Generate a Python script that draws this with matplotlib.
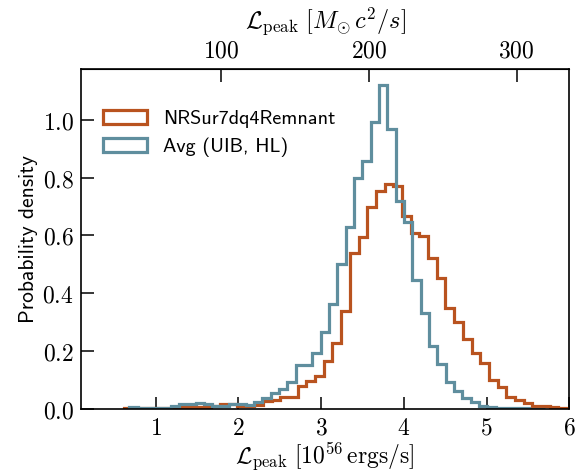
import numpy as np
import matplotlib
matplotlib.use("Agg")
import matplotlib.pyplot as plt
from matplotlib.ticker import FuncFormatter, FixedLocator

plt.rcParams["mathtext.fontset"] = "cm"

# ---- data ----
labels = ["NRSur7dq4Remnant", "Avg (UIB, HL)"]
colors = ["#b9531f", "#5f8e9e"]

orange_start, orange_width = 0.616, 0.105
orange_density = [0.002, 0.003, 0.004, 0.004, 0.005, 0.005, 0.006, 0.007, 0.006, 0.006,
                  0.010, 0.016, 0.016, 0.010, 0.012, 0.014, 0.028, 0.031, 0.040, 0.040,
                  0.079, 0.097, 0.113, 0.166, 0.227, 0.340, 0.538, 0.593, 0.699, 0.752,
                  0.778, 0.770, 0.667, 0.609, 0.598, 0.521, 0.453, 0.350, 0.302, 0.241,
                  0.195, 0.158, 0.101, 0.075, 0.042, 0.031, 0.020, 0.010, 0.010, 0.006,
                  0.005, 0.005]

blue_start, blue_width = 0.68, 0.1006
blue_density = [0.008, 0.003, 0.003, 0.005, 0.005, 0.010, 0.016, 0.016, 0.020, 0.016,
                0.011, 0.012, 0.016, 0.016, 0.015, 0.025, 0.038, 0.054, 0.069, 0.094,
                0.153, 0.153, 0.194, 0.265, 0.363, 0.502, 0.629, 0.800, 0.858, 0.993,
                1.119, 0.968, 0.718, 0.645, 0.446, 0.331, 0.216, 0.157, 0.094, 0.063,
                0.037, 0.023, 0.010, 0.008, 0.005, 0.004, 0.003, 0.002, 0.001, 0.001]

bottom_ticks = [1, 2, 3, 4, 5, 6]
y_ticks = [0.0, 0.2, 0.4, 0.6, 0.8, 1.0]
top_ticks = [100, 200, 300]
conv = 55.96  # 1e56 erg/s in M_sun c^2 / s

fig = plt.figure(figsize=(5.85, 4.73), dpi=100)
ax = fig.add_axes([0.138, 0.1353, 0.8355, 0.7188])

series = [(orange_start, orange_width, orange_density),
          (blue_start, blue_width, blue_density)]
for (start, width, dens), lab, col in zip(series, labels, colors):
    dens = np.asarray(dens)
    edges = start + width * np.arange(len(dens) + 1)
    ax.hist(edges[:-1], bins=edges, weights=dens, histtype="step",
            color=col, lw=2.3, label=lab)

ax.set_xlim(0.094, 6.0)
ax.set_ylim(bottom=0)

ax.xaxis.set_major_locator(FixedLocator(bottom_ticks))
ax.yaxis.set_major_locator(FixedLocator(y_ticks))
ax.xaxis.set_major_formatter(FuncFormatter(lambda v, p: f"${v:g}$"))
ax.yaxis.set_major_formatter(FuncFormatter(lambda v, p: f"${v:.1f}$"))
ax.tick_params(direction="in", length=9, width=1.1, labelsize=17, top=False, right=False, pad=5)
for s in ax.spines.values():
    s.set_linewidth(1.2)

sec = ax.secondary_xaxis("top", functions=(lambda x: x * conv, lambda m: m / conv))
sec.xaxis.set_major_locator(FixedLocator(top_ticks))
sec.xaxis.set_major_formatter(FuncFormatter(lambda v, p: f"${v:g}$"))
sec.tick_params(direction="in", length=9, width=1.1, labelsize=17, pad=5)
sec.set_xlabel(r"$\mathcal{L}_{\rm peak}\ [M_{\odot}\,c^2/s]$", fontsize=17.5, labelpad=7)

ax.set_xlabel(r"$\mathcal{L}_{\rm peak}\ [10^{56}\,{\rm ergs/s}]$", fontsize=17, labelpad=0)
ax.set_ylabel("Probability density", family="cmss10", fontsize=15.5, labelpad=3)

leg = ax.legend(loc="upper left", bbox_to_anchor=(0.029, 0.903), borderaxespad=0,
                frameon=False, prop={"family": "cmss10", "size": 14.5},
                handlelength=2.2, handleheight=0.7, labelspacing=0.45, handletextpad=0.8)

fig.savefig("out.png", dpi=100)
